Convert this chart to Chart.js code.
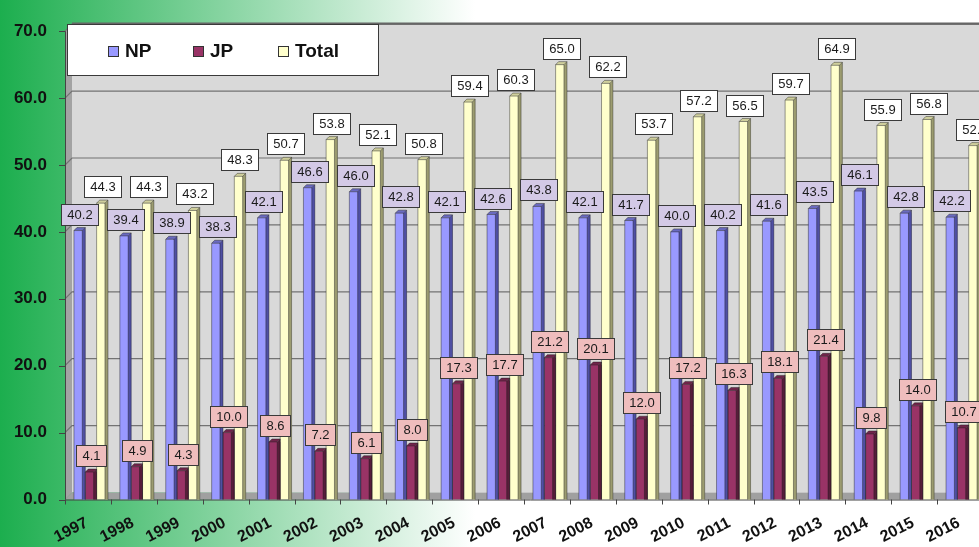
<!DOCTYPE html>
<html>
<head>
<meta charset="utf-8">
<script src="https://cdn.jsdelivr.net/npm/chart.js@4.4.1/dist/chart.umd.min.js"></script>
<style>
  html, body { margin: 0; padding: 0; overflow: hidden; background: #fff; }
  #wrap { position: absolute; left: 0; top: 0; width: 979px; height: 547px; overflow: hidden; }
  canvas { display: block; }
</style>
</head>
<body>
<div id="wrap"><canvas id="chart" width="1000" height="547"></canvas></div>
<script>
// ---- data ----
const years = ['1997', '1998', '1999', '2000', '2001', '2002', '2003', '2004', '2005', '2006',
               '2007', '2008', '2009', '2010', '2011', '2012', '2013', '2014', '2015', '2016'];
const npValues = [40.2, 39.4, 38.9, 38.3, 42.1, 46.6, 46.0, 42.8, 42.1, 42.6,
                  43.8, 42.1, 41.7, 40.0, 40.2, 41.6, 43.5, 46.1, 42.8, 42.2];
const jpValues = [4.1, 4.9, 4.3, 10.0, 8.6, 7.2, 6.1, 8.0, 17.3, 17.7,
                  21.2, 20.1, 12.0, 17.2, 16.3, 18.1, 21.4, 9.8, 14.0, 10.7];
const totalValues = [44.3, 44.3, 43.2, 48.3, 50.7, 53.8, 52.1, 50.8, 59.4, 60.3,
                     65.0, 62.2, 53.7, 57.2, 56.5, 59.7, 64.9, 55.9, 56.8, 52.9];
const seriesNames = ['NP', 'JP', 'Total'];
const yTickValues = [0, 10, 20, 30, 40, 50, 60, 70];

// ---- styling ----
const palette = [
  { front: '#9999ff', side: '#4f4fa3', top: '#6a6ac0', label: '#d3c9e6' },
  { front: '#993366', side: '#571d3a', top: '#70244a', label: '#efbdbd' },
  { front: '#ffffcc', side: '#9c9c70', top: '#cfcf9c', label: '#ffffff' }
];
const WALL_DX = 7, WALL_DY = 7;   // depth of the back wall
const BAR_SIDE = 3;               // depth of each column
const FONT = 'Arial, "Liberation Sans", sans-serif';

// Walls, floor, gridlines and tick marks of the 3-D plot box
const boxPlugin = {
  id: 'box3d',
  beforeDraw(chart) {
    const { ctx, chartArea: a, scales: { x, y } } = chart;
    const W = chart.width, H = chart.height;
    ctx.save();
    // page background
    const bg = ctx.createLinearGradient(0, 0, 475, 0);
    bg.addColorStop(0, '#1cae4e');
    bg.addColorStop(1, '#ffffff');
    ctx.fillStyle = bg;
    ctx.fillRect(0, 0, W, H);

    const fx = a.left - 3;           // front-left edge of the box
    const bx = fx + WALL_DX;         // back-left edge
    const r = a.right + 10;
    const top = a.top, bot = a.bottom;

    // back wall
    ctx.fillStyle = '#d9d9d9';
    ctx.fillRect(bx, top - WALL_DY, r - bx, bot - top);
    // left side wall
    ctx.fillStyle = '#a3a3a3';
    ctx.beginPath();
    ctx.moveTo(fx, top); ctx.lineTo(bx, top - WALL_DY);
    ctx.lineTo(bx, bot - WALL_DY); ctx.lineTo(fx, bot);
    ctx.closePath(); ctx.fill();
    // floor
    ctx.fillStyle = '#a0a0a0';
    ctx.beginPath();
    ctx.moveTo(fx, bot); ctx.lineTo(bx, bot - WALL_DY);
    ctx.lineTo(r, bot - WALL_DY); ctx.lineTo(r, bot);
    ctx.closePath(); ctx.fill();

    // horizontal gridlines on wall
    ctx.strokeStyle = '#737373';
    ctx.lineWidth = 1.2;
    yTickValues.forEach(v => {
      if (v === 0) return;
      const py = y.getPixelForValue(v);
      ctx.beginPath();
      ctx.moveTo(fx, py); ctx.lineTo(bx, py - WALL_DY); ctx.lineTo(r, py - WALL_DY);
      ctx.stroke();
    });
    // top edge of the box
    ctx.strokeStyle = '#666';
    ctx.lineWidth = 2.2;
    ctx.beginPath();
    ctx.moveTo(bx, top - WALL_DY - 0.5); ctx.lineTo(r, top - WALL_DY - 0.5);
    ctx.stroke();

    // axis lines
    ctx.strokeStyle = '#444';
    ctx.lineWidth = 1;
    ctx.beginPath();
    ctx.moveTo(fx + 0.5, top); ctx.lineTo(fx + 0.5, bot);
    ctx.moveTo(fx, bot + 0.5); ctx.lineTo(r, bot + 0.5);
    ctx.stroke();
    // y tick marks
    ctx.beginPath();
    yTickValues.forEach(v => {
      const py = Math.round(y.getPixelForValue(v)) + 0.5;
      ctx.moveTo(fx - 6, py); ctx.lineTo(fx, py);
    });
    // x tick marks at category boundaries
    const step = (a.right - a.left) / years.length;
    for (let k = 0; k <= years.length; k++) {
      const px = Math.round(a.left + k * step - 3) + 0.5;
      ctx.moveTo(px, bot); ctx.lineTo(px, bot + 5);
    }
    ctx.stroke();
    ctx.restore();
  },

  afterDatasetsDraw(chart) {
    const { ctx } = chart;
    ctx.save();
    // column sides and tops
    chart.data.datasets.forEach((ds, i) => {
      const meta = chart.getDatasetMeta(i);
      const col = palette[i];
      meta.data.forEach(bar => {
        const { x, y, base, width } = bar.getProps(['x', 'y', 'base', 'width'], true);
        const xl = x - width / 2, xr = x + width / 2;
        const d = BAR_SIDE;
        // side face
        ctx.fillStyle = col.side;
        ctx.beginPath();
        ctx.moveTo(xr - d, y); ctx.lineTo(xr, y - d); ctx.lineTo(xr, base); ctx.lineTo(xr - d, base);
        ctx.closePath(); ctx.fill();
        // top face
        ctx.fillStyle = col.top;
        ctx.beginPath();
        ctx.moveTo(xl, y); ctx.lineTo(xl + d, y - d); ctx.lineTo(xr, y - d); ctx.lineTo(xr - d, y);
        ctx.closePath(); ctx.fill();
        // outlines
        ctx.strokeStyle = 'rgba(30,30,30,0.55)';
        ctx.lineWidth = 0.8;
        ctx.beginPath();
        ctx.moveTo(xl, base); ctx.lineTo(xl, y); ctx.lineTo(xl + d, y - d); ctx.lineTo(xr, y - d);
        ctx.lineTo(xr, base);
        ctx.moveTo(xl, y); ctx.lineTo(xr - d, y); ctx.lineTo(xr, y - d);
        ctx.moveTo(xr - d, y); ctx.lineTo(xr - d, base);
        ctx.stroke();
      });
    });

    // value labels
    ctx.font = '13px ' + FONT;
    ctx.textAlign = 'center';
    ctx.textBaseline = 'middle';
    chart.data.datasets.forEach((ds, i) => {
      const meta = chart.getDatasetMeta(i);
      meta.data.forEach((bar, j) => {
        const { x, y } = bar.getProps(['x', 'y'], true);
        const txt = ds.data[j].toFixed(1);
        const w = Math.round(ctx.measureText(txt).width + 12);
        const h = 21;
        const bx = Math.round(x - w / 2) + 0.5;
        const by = Math.round(y - 6 - h) + 0.5;
        ctx.fillStyle = palette[i].label;
        ctx.fillRect(bx, by, w, h);
        ctx.strokeStyle = '#3a3a3a';
        ctx.lineWidth = 1;
        ctx.strokeRect(bx, by, w, h);
        ctx.fillStyle = '#1a1a1a';
        ctx.fillText(txt, bx + w / 2, by + h / 2 + 0.5);
      });
    });
    ctx.restore();
  },

  afterDraw(chart) {
    // legend box
    const { ctx } = chart;
    ctx.save();
    ctx.fillStyle = '#ffffff';
    ctx.fillRect(67.5, 24.5, 311, 51);
    ctx.strokeStyle = '#3a3a3a';
    ctx.lineWidth = 1;
    ctx.strokeRect(67.5, 24.5, 311, 51);
    const itemX = [108, 193, 278];
    ctx.font = 'bold 19px ' + FONT;
    ctx.textAlign = 'left';
    ctx.textBaseline = 'middle';
    seriesNames.forEach((name, i) => {
      ctx.fillStyle = palette[i].front;
      ctx.fillRect(itemX[i] + 0.5, 46.5, 10, 10);
      ctx.strokeStyle = '#333';
      ctx.strokeRect(itemX[i] + 0.5, 46.5, 10, 10);
      ctx.fillStyle = '#111';
      ctx.fillText(name, itemX[i] + 17, 51.5);
    });
    ctx.restore();
  }
};

const datasets = [npValues, jpValues, totalValues].map((vals, i) => ({
  label: seriesNames[i],
  data: vals,
  backgroundColor: palette[i].front,
  borderWidth: 0,
  barPercentage: 1.0,
  categoryPercentage: 0.741
}));

new Chart(document.getElementById('chart'), {
  type: 'bar',
  data: { labels: years, datasets },
  options: {
    responsive: false,
    animation: false,
    layout: { padding: { top: 24.5, right: 14, left: 0, bottom: 0 } },
    plugins: {
      legend: { display: false },
      tooltip: { enabled: false },
      title: { display: false }
    },
    scales: {
      x: {
        grid: { display: false, drawTicks: false },
        border: { display: false },
        ticks: {
          autoSkip: false,
          minRotation: 27,
          maxRotation: 27,
          padding: 14,
          labelOffset: -4,
          color: '#111',
          font: { family: FONT, size: 16, weight: 'bold' }
        },
        afterFit(scale) { scale.height = 47.5; }
      },
      y: {
        min: 0,
        max: 70,
        grid: { display: false, drawTicks: false },
        border: { display: false },
        afterBuildTicks(scale) { scale.ticks = yTickValues.map(v => ({ value: v })); },
        ticks: {
          padding: 21,
          color: '#111',
          font: { family: FONT, size: 17, weight: 'bold' },
          callback: v => Number(v).toFixed(1)
        },
        afterFit(scale) { scale.width = 68; }
      }
    }
  },
  plugins: [boxPlugin]
});
</script>
</body>
</html>
